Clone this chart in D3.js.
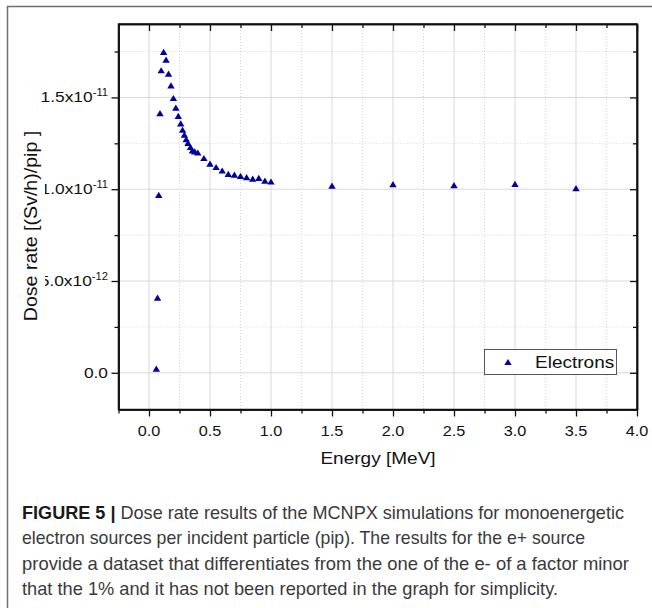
<!DOCTYPE html>
<html><head><meta charset="utf-8">
<script src="https://cdn.jsdelivr.net/npm/d3@7"></script>
<style>html,body{margin:0;padding:0;background:#fff}svg{display:block}</style>
</head><body>
<script>
// ---- data ----
const energy = [0.06, 0.07, 0.08, 0.09, 0.10, 0.12, 0.14, 0.16, 0.18, 0.20, 0.22, 0.24, 0.26, 0.275, 0.29, 0.305, 0.32, 0.34, 0.355, 0.375, 0.40, 0.45, 0.50, 0.55, 0.60, 0.65, 0.70, 0.75, 0.80, 0.85, 0.90, 0.95, 1.00, 1.5, 2.0, 2.5, 3.0, 3.5];
const doseRate = [0.23e-12, 4.09e-12, 9.69e-12, 14.15e-12, 16.48e-12, 17.48e-12, 17.06e-12, 16.30e-12, 15.66e-12, 14.97e-12, 14.44e-12, 14.00e-12, 13.59e-12, 13.24e-12, 12.97e-12, 12.73e-12, 12.52e-12, 12.30e-12, 12.11e-12, 12.06e-12, 12.00e-12, 11.70e-12, 11.39e-12, 11.21e-12, 11.02e-12, 10.84e-12, 10.79e-12, 10.73e-12, 10.66e-12, 10.58e-12, 10.62e-12, 10.47e-12, 10.42e-12, 10.20e-12, 10.28e-12, 10.22e-12, 10.29e-12, 10.06e-12];
const seriesName = "Electrons";
const xMajorTicks = [0, 0.5, 1.0, 1.5, 2.0, 2.5, 3.0, 3.5, 4.0];
const xMinorTicks = [-0.25, 0.25, 0.75, 1.25, 1.75, 2.25, 2.75, 3.25, 3.75];
const xTickLabels = ["0.0", "0.5", "1.0", "1.5", "2.0", "2.5", "3.0", "3.5", "4.0"];
const yMajorTicks = [0, 5e-12, 1e-11, 1.5e-11];
const yMinorTicks = [2.5e-12, 7.5e-12, 1.25e-11, 1.75e-11];
const yTickMantissa = ["0.0", "5.0x10", "1.0x10", "1.5x10"];
const yTickExponent = ["", "-12", "-11", "-11"];
const xTitle = "Energy [MeV]";
const yTitle = "Dose rate [(Sv/h)/pip ]";
const captionBold = "FIGURE 5 |";
const captionLines = [
  " Dose rate results of the MCNPX simulations for monoenergetic",
  "electron sources per incident particle (pip). The results for the e+ source",
  "provide a dataset that differentiates from the one of the e- of a factor minor",
  "that the 1% and it has not been reported in the graph for simplicity."
];

// ---- layout ----
const W = 652, H = 608;
const L = 118.5, R = 637, T = 24, B = 409.5;
const SX = 1.12; // horizontal stretch of chart text
const FONT = "'Liberation Sans', Arial, sans-serif";
const BLUE = "#00009e";

const svg = d3.select("body").append("svg").attr("width", W).attr("height", H);
svg.append("rect").attr("width", W).attr("height", H).attr("fill", "#fff");

// outer frame
svg.append("path").attr("d", `M7.5,${H} V6.5 H${W}`).attr("fill", "none")
  .attr("stroke", "#707070").attr("stroke-width", 1.5);

const x = d3.scaleLinear().domain([-0.25, 4]).range([L, R]);
const y = d3.scaleLinear().domain([-2e-12, 1.9e-11]).range([B, T]);

// grid
const grid = svg.append("g");
grid.selectAll(".vmaj").data(xMajorTicks.filter(d => d < 4)).join("line")
  .attr("x1", d => x(d)).attr("x2", d => x(d)).attr("y1", T).attr("y2", B)
  .attr("stroke", "#d9d9d9").attr("stroke-width", 1);
grid.selectAll(".vmin").data(xMinorTicks.filter(d => d > -0.25)).join("line")
  .attr("x1", d => x(d)).attr("x2", d => x(d)).attr("y1", T).attr("y2", B)
  .attr("stroke", "#d4d4d4").attr("stroke-width", 1).attr("stroke-dasharray", "1,2");
grid.selectAll(".hmaj").data(yMajorTicks).join("line")
  .attr("x1", L).attr("x2", R).attr("y1", d => y(d)).attr("y2", d => y(d))
  .attr("stroke", "#d9d9d9").attr("stroke-width", 1);
grid.selectAll(".hmin").data(yMinorTicks).join("line")
  .attr("x1", L).attr("x2", R).attr("y1", d => y(d)).attr("y2", d => y(d))
  .attr("stroke", "#d4d4d4").attr("stroke-width", 1).attr("stroke-dasharray", "1,2");

// axes (ticks only)
function styleAxis(g) {
  g.selectAll("path.domain").attr("stroke", "#111").attr("stroke-width", 1.5);
  g.selectAll(".tick line").attr("stroke", "#111").attr("stroke-width", 1.3);
  g.selectAll("text").remove();
}
const mk = (axisFn, scale, vals, size) => axisFn(scale).tickValues(vals).tickSize(size).tickSizeOuter(0).tickFormat("");
svg.append("g").attr("transform", `translate(0,${B})`).call(mk(d3.axisBottom, x, xMajorTicks, 7)).call(styleAxis);
svg.append("g").attr("transform", `translate(0,${B})`).call(mk(d3.axisBottom, x, xMinorTicks, 4)).call(styleAxis);
svg.append("g").attr("transform", `translate(0,${T})`).call(mk(d3.axisBottom, x, xMajorTicks, 7)).call(styleAxis);
svg.append("g").attr("transform", `translate(0,${T})`).call(mk(d3.axisBottom, x, xMinorTicks, 4)).call(styleAxis);
svg.append("g").attr("transform", `translate(${L},0)`).call(mk(d3.axisLeft, y, yMajorTicks, 7)).call(styleAxis);
svg.append("g").attr("transform", `translate(${L},0)`).call(mk(d3.axisLeft, y, yMinorTicks, 4)).call(styleAxis);
svg.append("g").attr("transform", `translate(${R},0)`).call(mk(d3.axisLeft, y, yMajorTicks, 7)).call(styleAxis);
svg.append("g").attr("transform", `translate(${R},0)`).call(mk(d3.axisLeft, y, yMinorTicks, 4)).call(styleAxis);
// frame lines
svg.append("rect").attr("x", L).attr("y", T).attr("width", R - L).attr("height", B - T)
  .attr("fill", "none").attr("stroke", "#111").attr("stroke-width", 1.5);

// text helper
function txt(parent, tx, ty, str, size, anchor, rot) {
  return parent.append("text")
    .attr("transform", `translate(${tx},${ty})` + (rot ? ` rotate(${rot})` : "") + ` scale(${SX},1)`)
    .attr("text-anchor", anchor || "start")
    .attr("font-family", FONT).attr("font-size", size).attr("fill", "#111")
    .text(str);
}

// x tick labels
xMajorTicks.forEach((d, i) => txt(svg, x(d), 435.5, xTickLabels[i], 14.5, "middle"));

// y tick labels
yMajorTicks.forEach((d, i) => {
  const t = svg.append("text")
    .attr("transform", `translate(108,${y(d) + 5}) scale(${SX},1)`)
    .attr("text-anchor", "end").attr("font-family", FONT).attr("font-size", 15.5).attr("fill", "#111");
  t.append("tspan").text(yTickMantissa[i]);
  if (yTickExponent[i]) t.append("tspan").attr("font-size", 10).attr("dy", -6.5).text(yTickExponent[i]);
});

// y title with white backing (covers label starts as in original)
svg.append("rect").attr("x", 17).attr("y", 126).attr("width", 28).attr("height", 202).attr("fill", "#fff");
txt(svg, 37, 226, yTitle, 17.5, "middle", -90);

// x title
txt(svg, 378, 464, xTitle, 17, "middle");

// points
const tri = { draw(ctx, size) { const w = 3.7, h = 3.1; ctx.moveTo(0, -h); ctx.lineTo(w, h); ctx.lineTo(-w, h); ctx.closePath(); } };
const sym = d3.symbol().type(tri).size(1);
svg.append("g").selectAll("path").data(energy).join("path")
  .attr("d", sym).attr("fill", BLUE)
  .attr("transform", (d, i) => `translate(${x(d)},${y(doseRate[i])})`);

// legend
const lg = svg.append("g");
lg.append("rect").attr("x", 484.5).attr("y", 349.5).attr("width", 132).attr("height", 25)
  .attr("fill", "#fff").attr("stroke", "#555").attr("stroke-width", 1);
lg.append("path").attr("d", sym).attr("fill", BLUE).attr("transform", "translate(508,362)");
txt(lg, 535, 367.5, seriesName, 17, "start");

// caption
const capBaselines = [519, 544, 569.5, 594.5];
const capWidths = [602, 563, 607, 536];
captionLines.forEach((line, i) => {
  const t = svg.append("text").attr("x", 22).attr("y", capBaselines[i])
    .attr("font-family", FONT).attr("font-size", 19).attr("fill", "#3a3a3a")
    .attr("textLength", capWidths[i]).attr("lengthAdjust", "spacingAndGlyphs");
  if (i === 0) t.append("tspan").attr("font-weight", "bold").attr("fill", "#1a1a1a").text(captionBold);
  t.append("tspan").text(line);
});
</script>
</body></html>
